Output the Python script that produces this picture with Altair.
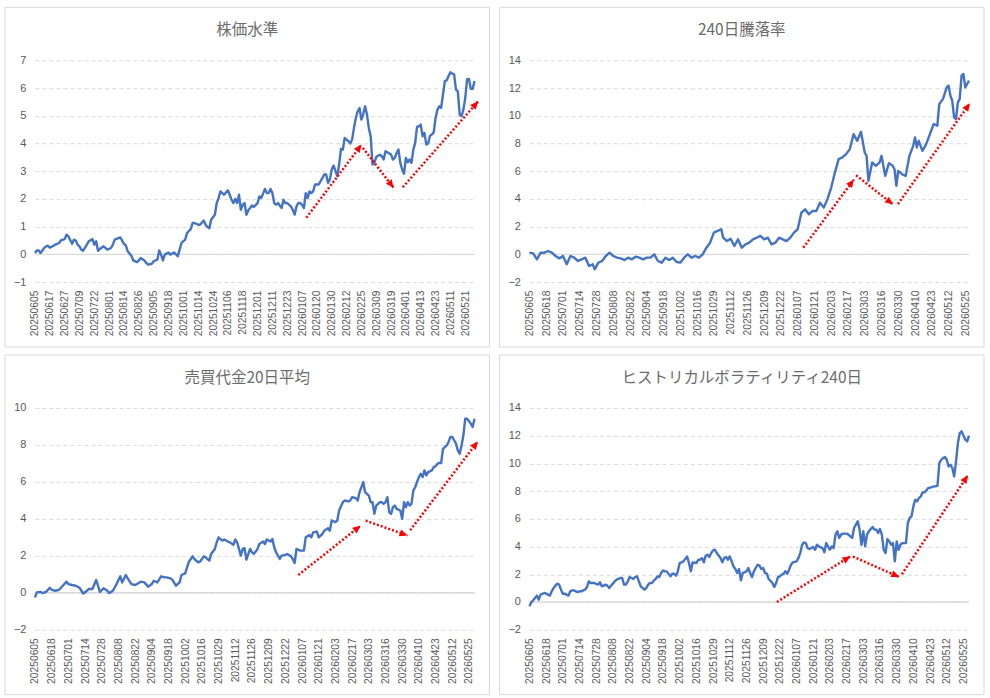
import math
import pandas as pd
import altair as alt

FONT_CJK = "Noto Sans CJK JP"
FONT_NUM = "Liberation Sans"

titles = ["株価水準", "240日騰落率", "売買代金20日平均", "ヒストリカルボラティリティ240日"]

labels_p1 = ["20250605", "20250617", "20250627", "20250709", "20250722", "20250801",
             "20250814", "20250826", "20250905", "20250918", "20251001", "20251014",
             "20251024", "20251106", "20251118", "20251201", "20251211", "20251223",
             "20260107", "20260120", "20260130", "20260212", "20260225", "20260309",
             "20260319", "20260401", "20260413", "20260423", "20260511", "20260521"]
labels_p234 = ["20250605", "20250618", "20250701", "20250714", "20250728", "20250808",
               "20250822", "20250904", "20250918", "20251002", "20251016", "20251029",
               "20251112", "20251126", "20251209", "20251222", "20260107", "20260121",
               "20260203", "20260217", "20260303", "20260316", "20260330", "20260410",
               "20260423", "20260512", "20260525"]

# ---- panel 1: 株価水準 ----
p1_day = [0, 1, 2, 3, 5, 6, 7, 8, 10, 11, 13, 14, 16, 17, 18, 20, 21, 22, 23, 24, 25, 26, 28, 29,
          31, 32, 33, 34, 35, 37, 38, 39, 41, 42, 43, 46, 48, 49, 50, 52, 53, 55, 56, 57, 59, 60,
          61, 63, 64, 66, 67, 68, 69, 70, 72, 73, 75, 77, 78, 79, 81, 82, 84, 85, 86, 88, 89, 91,
          92, 93, 94, 95, 97, 98, 99, 100, 101, 102, 104, 105, 106, 107, 108, 109, 110, 111, 112,
          113, 114, 115, 116, 117, 118, 120, 121, 122, 123, 124, 125, 126, 127, 128, 129, 130, 131,
          133, 134, 135, 136, 138, 139, 140, 141, 142, 143, 144, 145, 146, 147, 148, 149, 150, 151,
          152, 153, 155, 156, 157, 158, 159, 160, 161, 163, 164, 165, 166, 167, 168, 169, 170, 171,
          172, 173, 174, 175, 176, 177, 178, 179, 180, 181, 182, 183, 184, 185, 186, 187, 188, 189,
          192, 193, 194, 195, 196, 197, 198, 199, 200, 201, 202, 203, 204, 205, 206, 207, 208, 209,
          210, 211, 212, 213, 214, 215, 216, 217, 218, 219, 221, 222, 223, 224, 225, 226, 227, 228,
          229, 230, 231, 232, 233, 234, 235, 236, 237]
p1_val = [0.05, 0.14, 0.14, 0.05, 0.23, 0.29, 0.31, 0.24, 0.31, 0.35, 0.41, 0.5, 0.55, 0.71, 0.65,
          0.38, 0.53, 0.5, 0.35, 0.29, 0.17, 0.13, 0.35, 0.47, 0.55, 0.35, 0.47, 0.13, 0.19, 0.29,
          0.23, 0.17, 0.23, 0.35, 0.53, 0.61, 0.38, 0.32, 0.11, -0.05, -0.22, -0.28, -0.22, -0.13,
          -0.22, -0.31, -0.37, -0.34, -0.25, -0.19, 0.14, -0.01, -0.22, -0.01, 0.07, -0.01, 0.07,
          -0.07, 0.17, 0.41, 0.53, 0.77, 0.91, 1.13, 1.13, 1.07, 1.07, 1.22, 1.07, 0.99, 0.94, 1.25,
          1.43, 1.85, 2.03, 2.27, 2.21, 2.15, 2.31, 2.15, 1.97, 1.85, 2.0, 1.85, 2.15, 1.61, 1.79,
          1.85, 1.43, 1.59, 1.67, 1.76, 1.71, 1.85, 2.09, 2.03, 2.19, 2.36, 2.21, 2.21, 2.36, 2.21,
          1.85, 1.79, 1.85, 1.67, 1.97, 1.85, 1.85, 1.73, 1.61, 1.43, 1.73, 1.85, 1.85, 1.79, 1.67,
          2.21, 2.03, 2.27, 2.21, 2.27, 2.52, 2.52, 2.52, 2.76, 2.88, 2.88, 2.58, 2.70, 3.06, 3.2,
          2.82, 3.24, 3.8, 3.78, 4.2, 4.14, 4.08, 4.0, 4.14, 4.56, 4.92, 5.16, 5.28, 4.86, 5.05,
          5.34, 5.05, 4.56, 4.26, 3.24, 3.3, 3.51, 3.56, 3.59, 3.54, 3.42, 3.72, 3.6, 3.42, 3.48,
          3.66, 3.78, 3.30, 3.06, 2.91, 3.48, 3.32, 3.42, 3.3, 3.78, 4.02, 4.6, 4.62, 4.68, 4.26,
          4.38, 3.96, 4.0, 4.28, 4.32, 4.4, 4.92, 5.22, 5.34, 5.28, 6.25, 6.28, 6.43, 6.57, 6.52,
          6.49, 5.94, 5.88, 5.04, 4.98, 5.22, 5.64, 6.31, 6.33, 5.97, 5.97, 6.25]

# ---- panel 2: 240日騰落率 ----
p2_day = [0, 2, 4, 6, 8, 10, 12, 14, 16, 18, 20, 22, 24, 26, 28, 30, 32, 34, 35, 37, 39, 41, 43,
          45, 47, 49, 51, 53, 55, 57, 59, 61, 63, 65, 67, 69, 71, 73, 75, 77, 79, 81, 83, 85, 87,
          89, 91, 93, 95, 97, 99, 101, 103, 104, 106, 108, 110, 112, 114, 116, 118, 120, 122, 124,
          126, 128, 130, 132, 134, 136, 138, 140, 142, 144, 146, 148, 150, 152, 154, 156, 158, 160,
          162, 164, 166, 168, 170, 172, 174, 176, 178, 180, 181, 182, 184, 186, 188, 189, 191, 193,
          195, 196, 197, 198, 200, 202, 204, 206, 207, 208, 209, 211, 213, 215, 217, 219, 220, 222,
          224, 225, 226, 227, 228, 229, 230, 231, 232, 233, 234, 235, 236]
p2_val = [0.12, 0.07, -0.36, 0.12, 0.12, 0.24, 0.12, -0.12, -0.29, -0.12, -0.72, -0.12, -0.24,
          -0.48, -0.36, -0.24, -0.84, -0.72, -1.08, -0.60, -0.48, -0.12, 0.12, -0.12, -0.24, -0.29,
          -0.41, -0.24, -0.36, -0.17, -0.24, -0.36, -0.24, -0.24, 0.0, -0.48, -0.60, -0.24, -0.41,
          -0.24, -0.55, -0.60, -0.24, 0.0, -0.24, -0.12, -0.24, 0.0, 0.48, 0.84, 1.57, 1.69, 1.81,
          1.2, 0.96, 1.13, 0.60, 1.08, 0.48, 0.72, 0.84, 1.08, 1.2, 1.33, 1.08, 1.2, 0.72, 0.84,
          1.2, 1.08, 0.96, 1.2, 1.57, 1.81, 3.01, 3.25, 2.89, 3.13, 3.13, 3.73, 3.37, 3.98, 4.82,
          5.90, 6.87, 6.99, 7.23, 7.59, 8.67, 8.19, 8.84, 7.35, 7.11, 5.30, 6.63, 6.39, 6.63, 7.11,
          5.66, 6.58, 6.39, 6.14, 4.94, 6.02, 5.78, 5.66, 7.11, 7.83, 8.43, 7.71, 8.19, 7.47, 7.95,
          8.67, 9.4, 9.28, 10.84, 11.2, 12.05, 12.17, 11.45, 11.08, 9.88, 9.76, 10.96, 11.2, 12.89,
          13.01, 12.05, 12.29, 12.53]

# ---- panel 3: 売買代金20日平均 ----
p3_day = [0, 1, 3, 4, 6, 8, 9, 11, 13, 15, 17, 18, 20, 22, 24, 26, 27, 29, 31, 33, 34, 35, 37, 39,
          40, 42, 44, 46, 47, 49, 50, 52, 54, 55, 57, 59, 61, 63, 64, 66, 68, 70, 71, 73, 74, 76,
          78, 79, 81, 82, 83, 85, 86, 88, 89, 91, 92, 94, 95, 97, 98, 99, 101, 102, 104, 105, 107,
          108, 109, 111, 112, 113, 114, 116, 117, 118, 120, 121, 123, 124, 125, 127, 128, 129, 130,
          132, 133, 135, 136, 138, 139, 140, 141, 143, 144, 145, 146, 148, 149, 150, 152, 153, 155,
          156, 158, 159, 160, 162, 163, 164, 166, 167, 169, 170, 171, 173, 174, 175, 176, 177, 178,
          180, 181, 182, 183, 184, 185, 186, 187, 188, 189, 190, 191, 192, 193, 194, 195, 197, 198,
          199, 200, 201, 202, 203, 204, 205, 206, 207, 208, 209, 210, 211, 212, 214, 215, 216, 217,
          218, 219, 220, 222, 223, 224, 225, 226, 227, 228, 229, 230, 231, 232, 233, 235, 236, 237]
p3_val = [-0.25, 0.02, 0.05, -0.02, 0.05, 0.27, 0.16, 0.11, 0.16, 0.38, 0.60, 0.47, 0.42, 0.38,
          0.27, -0.04, 0.02, 0.20, 0.20, 0.69, 0.38, 0.05, 0.24, 0.11, -0.02, 0.11, 0.47, 0.89,
          0.56, 0.96, 0.78, 0.47, 0.42, 0.47, 0.60, 0.56, 0.33, 0.47, 0.65, 0.56, 0.89, 0.83, 0.83,
          0.78, 0.71, 0.38, 0.56, 0.96, 1.05, 1.37, 1.68, 1.97, 1.82, 1.65, 1.68, 1.97, 1.92, 1.74,
          2.10, 2.37, 2.73, 3.0, 2.82, 2.88, 2.77, 2.73, 2.59, 2.88, 2.73, 2.01, 2.37, 2.41, 1.79,
          2.37, 2.19, 2.10, 2.37, 2.64, 2.77, 2.64, 2.88, 2.77, 2.91, 2.46, 2.19, 1.83, 2.01, 2.04,
          2.10, 1.97, 1.83, 1.61, 2.37, 2.28, 2.28, 2.28, 3.0, 3.13, 3.0, 3.27, 3.31, 3.0, 3.18,
          3.36, 3.49, 3.36, 3.91, 3.82, 3.91, 4.45, 4.9, 4.99, 4.94, 4.99, 5.17, 5.12, 4.99, 5.44,
          5.71, 5.99, 5.44, 5.26, 4.90, 4.90, 4.27, 4.72, 4.81, 4.90, 4.90, 4.81, 4.90, 5.17, 4.36,
          4.27, 4.63, 4.72, 4.54, 4.45, 4.0, 4.9, 4.63, 4.9, 4.72, 4.81, 5.53, 5.71, 5.99, 6.26,
          6.44, 6.26, 6.62, 6.35, 6.53, 6.62, 6.80, 6.85, 6.98, 7.03, 7.02, 7.79, 7.97, 8.16, 8.43,
          8.43, 8.25, 8.07, 7.70, 7.52, 7.97, 8.52, 9.42, 9.42, 9.15, 8.97, 9.42]

# ---- panel 4: ヒストリカルボラティリティ240日 ----
p4_day = [0, 1, 2, 3, 4, 5, 6, 8, 9, 10, 11, 12, 13, 14, 15, 16, 17, 18, 19, 21, 22, 23, 24, 25,
          26, 27, 28, 29, 30, 31, 32, 33, 35, 36, 37, 38, 39, 40, 41, 42, 43, 44, 45, 46, 47, 49,
          50, 51, 52, 53, 54, 55, 56, 57, 58, 59, 60, 62, 63, 64, 65, 66, 67, 68, 69, 70, 71, 72,
          73, 74, 76, 77, 78, 79, 80, 81, 82, 83, 84, 85, 86, 87, 88, 90, 91, 92, 93, 94, 95, 96,
          97, 98, 99, 100, 101, 103, 104, 105, 106, 107, 108, 109, 110, 111, 112, 113, 114, 115,
          117, 118, 119, 120, 121, 122, 123, 124, 125, 126, 127, 128, 129, 131, 132, 133, 134, 135,
          136, 137, 138, 139, 140, 141, 142, 144, 145, 146, 147, 148, 149, 150, 151, 152, 153, 154,
          155, 156, 158, 159, 160, 161, 162, 163, 164, 165, 166, 167, 168, 169, 171, 172, 173, 174,
          175, 176, 177, 178, 179, 180, 181, 182, 183, 185, 186, 187, 188, 189, 190, 191, 192, 193,
          194, 195, 196, 197, 198, 199, 200, 201, 203, 204, 205, 206, 207, 208, 209, 210, 211, 212,
          213, 214, 215, 217, 218, 219, 220, 221, 222, 223, 224, 225, 226, 227, 228, 229, 230, 231,
          232, 233, 235, 236, 237]
p4_val = [-0.31, -0.02, 0.12, 0.29, 0.46, 0.17, 0.53, 0.65, 0.60, 0.53, 0.46, 0.77, 1.01, 1.18,
          1.32, 1.25, 0.89, 0.60, 0.60, 0.46, 0.77, 0.84, 0.84, 0.77, 0.72, 0.77, 0.77, 0.84, 0.89,
          1.08, 1.49, 1.37, 1.37, 1.30, 1.25, 1.42, 1.13, 1.18, 1.25, 1.18, 1.01, 1.18, 1.32, 1.49,
          1.61, 1.73, 1.73, 1.25, 1.25, 1.49, 1.80, 1.73, 1.66, 1.80, 1.85, 1.49, 1.13, 0.89, 1.01,
          1.25, 1.37, 1.37, 1.54, 1.66, 1.85, 1.80, 2.09, 2.28, 2.21, 2.21, 1.85, 2.04, 2.04, 1.90,
          2.21, 2.81, 2.86, 2.93, 3.10, 3.29, 2.81, 2.21, 2.86, 2.81, 3.05, 3.05, 3.17, 2.86, 3.34,
          3.41, 3.25, 3.53, 3.73, 3.77, 3.53, 3.17, 2.86, 3.17, 3.25, 3.05, 3.29, 2.93, 2.57, 2.38,
          2.09, 2.38, 1.56, 2.09, 2.21, 2.45, 2.09, 1.80, 2.21, 2.45, 2.69, 2.62, 2.38, 2.45, 2.09,
          2.04, 1.66, 1.37, 1.08, 1.37, 1.80, 1.85, 1.97, 2.04, 2.21, 2.04, 2.33, 2.69, 2.86, 2.93,
          3.17, 3.53, 4.13, 4.30, 4.25, 3.89, 3.82, 3.89, 3.97, 3.77, 4.13, 4.01, 3.89, 3.58, 4.25,
          4.01, 3.77, 4.01, 3.89, 4.86, 5.10, 4.62, 4.86, 4.93, 4.93, 4.86, 4.74, 4.62, 5.34, 5.58,
          5.82, 5.22, 4.13, 5.10, 4.01, 4.86, 5.10, 5.41, 5.22, 5.22, 4.98, 5.26, 4.86, 3.77, 3.53,
          4.54, 4.37, 4.13, 4.25, 2.93, 4.37, 3.77, 4.13, 4.25, 4.25, 5.70, 6.06, 6.18, 6.90, 7.38,
          7.26, 7.50, 7.62, 7.91, 7.91, 8.05, 8.22, 8.29, 8.34, 8.34, 8.39, 10.02, 10.26, 10.38,
          10.46, 10.26, 9.78, 9.90, 9.66, 9.06, 10.14, 11.47, 12.19, 12.31, 11.71, 11.59, 12.0]

# ---- red dotted arrows: [start, end] in (trading-day index, value) ----
arr1_x = [[146.3, 176.1], [176.8, 193.4], [198.3, 239.0]]
arr1_y = [[1.32, 3.96], [3.84, 2.40], [2.42, 5.52]]
arr2_x = [[147.0, 174.2], [175.4, 195.2], [197.8, 236.5]]
arr2_y = [[0.48, 5.40], [5.70, 3.60], [3.63, 10.90]]
arr3_x = [[142.0, 175.6], [178.3, 200.9], [202.3, 238.8]]
arr3_y = [[0.96, 3.63], [3.90, 3.10], [3.38, 8.19]]
arr4_x = [[133.4, 173.1], [174.4, 199.4], [200.8, 236.4]]
arr4_y = [[0.00, 3.30], [3.28, 1.80], [2.00, 9.14]]

W, H = 440, 222
GRAY = "#595959"
TITLE_GRAY = "#6b6b6b"
GRID = "#d9d9d9"
BLUE = "#4472C4"
RED = "#ff0000"
HEAD = "M0,0L0.9,2L-0.9,2Z"


def panel(title, day, val, labels, step, xmax, ymin, ymax, ystep, ax, ay):
    xs = alt.Scale(domain=[0, xmax], nice=False, zero=False)
    ys = alt.Scale(domain=[ymin, ymax], nice=False, zero=False)
    label_js = "[" + ",".join("'%s'" % l for l in labels) + "]"
    xaxis = alt.Axis(values=[i * step for i in range(len(labels))],
                     labelExpr="%s[round(datum.value/%d)]" % (label_js, step),
                     labelAngle=270, labelFontSize=10.3, labelColor=GRAY, labelFont=FONT_NUM,
                     labelPadding=8, labelOverlap=False, labelFlush=False,
                     grid=False, domain=False, ticks=False, title=None)
    yaxis = alt.Axis(values=list(range(ymin, ymax + 1, ystep)), grid=True, gridColor=GRID,
                     gridDash=[4, 3], gridWidth=1, domain=False, ticks=False,
                     labelFontSize=11, labelColor=GRAY, labelFont=FONT_NUM, labelPadding=9,
                     title=None)
    X = alt.X("d:Q", scale=xs, axis=xaxis)
    Y = alt.Y("v:Q", scale=ys, axis=yaxis)

    one = pd.DataFrame({"k": [0]})
    border = alt.Chart(one).mark_rect(fillOpacity=0, stroke=GRID, strokeWidth=1).encode(
        x=alt.value(-30), x2=alt.value(W + 15), y=alt.value(-53), y2=alt.value(H + 65))
    zero = alt.Chart(pd.DataFrame({"v": [0]})).mark_rule(color=GRID, strokeWidth=1.3).encode(
        y=Y, x=alt.value(0), x2=alt.value(W))
    line = alt.Chart(pd.DataFrame({"d": day, "v": val})).mark_line(
        color=BLUE, strokeWidth=2.4, strokeJoin="round").encode(x=X, y=Y)

    rows, heads = [], []
    for i, (px, py) in enumerate(zip(ax, ay)):
        rows.append({"id": i, "d": px[0], "v": py[0]})
        rows.append({"id": i, "d": px[1], "v": py[1]})
        dx = (px[1] - px[0]) / xmax * W
        dy = -(py[1] - py[0]) / (ymax - ymin) * H
        ang = math.degrees(math.atan2(dx, -dy)) % 360
        heads.append({"d": px[1], "v": py[1], "a": ang})
    arrows = alt.Chart(pd.DataFrame(rows)).mark_line(
        color=RED, strokeWidth=2.5, strokeDash=[2, 2], strokeCap="butt").encode(
        x=X, y=Y, detail="id:N")
    tips = alt.Chart(pd.DataFrame(heads)).mark_point(
        shape=HEAD, filled=True, color=RED, size=64, opacity=1, strokeWidth=0).encode(
        x=X, y=Y, angle=alt.Angle("a:Q", scale=None))
    ttl = alt.Chart(one).mark_text(text=title, font=FONT_CJK, fontSize=15.5, color=TITLE_GRAY,
                                   align="center", baseline="middle").encode(
        x=alt.value(W / 2 - 7.5), y=alt.value(-30))
    return alt.layer(border, zero, line, arrows, tips, ttl).properties(width=W, height=H)


c1 = panel(titles[0], p1_day, p1_val, labels_p1, 8, 237, -1, 7, 1, arr1_x, arr1_y)
c2 = panel(titles[1], p2_day, p2_val, labels_p234, 9, 236, -2, 14, 2, arr2_x, arr2_y)
c3 = panel(titles[2], p3_day, p3_val, labels_p234, 9, 237, -2, 10, 2, arr3_x, arr3_y)
c4 = panel(titles[3], p4_day, p4_val, labels_p234, 9, 237, -2, 14, 2, arr4_x, arr4_y)

chart = alt.concat(c1, c2, c3, c4, columns=2, spacing={"row": 6, "column": 8}).properties(
    padding={"left": 4, "top": 6, "right": 5, "bottom": 4},
    background="white",
).configure_view(stroke=None)

chart.save("out.html", embed_options={"renderer": "svg", "actions": False})
